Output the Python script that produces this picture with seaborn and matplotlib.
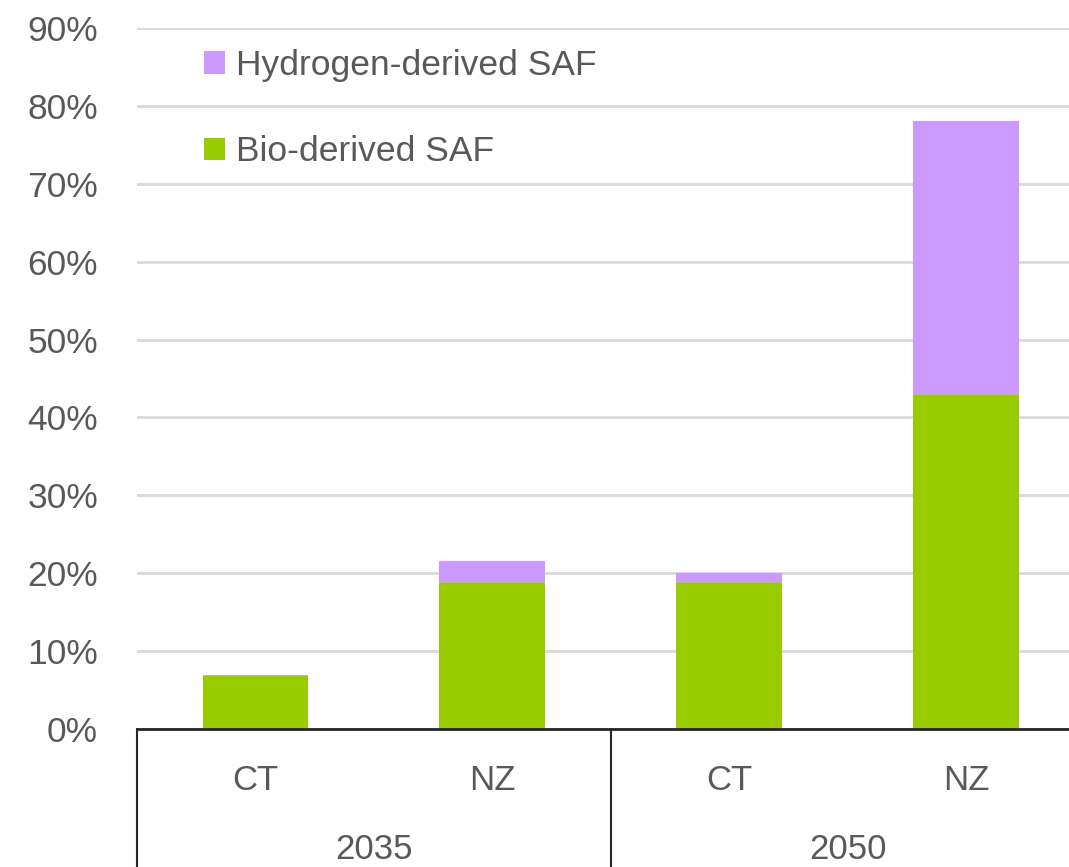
import matplotlib
matplotlib.use("Agg")
import matplotlib.pyplot as plt
import matplotlib.transforms as mtransforms
from matplotlib.patches import Patch
import seaborn as sns
import pandas as pd

# SAF share of aviation fuel, by year and scenario (percent)
years = ["2035", "2035", "2050", "2050"]
scenarios = ["CT", "NZ", "CT", "NZ"]
bio_saf = [6.8, 18.8, 18.8, 42.9]
hydrogen_saf = [0.1, 2.8, 1.2, 35.2]
y_ticks = [0, 10, 20, 30, 40, 50, 60, 70, 80, 90]

GREEN = "#99CC00"
PURPLE = "#CC99FF"
TEXT = "#595959"

sns.set_theme(style="white")
plt.rcParams["font.family"] = ["Liberation Sans", "DejaVu Sans"]

df = pd.DataFrame({
    "key": [f"{y} {s}" for y, s in zip(years, scenarios)],
    "bio": bio_saf,
    "hydrogen": hydrogen_saf,
})
order = list(df["key"])

fig = plt.figure(figsize=(10.69, 8.67), dpi=100)
ax = fig.add_axes([0.128, 0.1592, 0.872, 0.8085])

sns.barplot(data=df, x="key", y="bio", order=order, color=GREEN,
            width=0.445, saturation=1, linewidth=0, ax=ax)
sns.barplot(data=df, x="key", y="hydrogen", order=order, color=PURPLE,
            width=0.445, saturation=1, linewidth=0, bottom=df["bio"].values, ax=ax)

ax.set_xlim(-0.5, 3.435)
ax.set_ylim(0, 90)
ax.set_yticks(y_ticks)
ax.set_yticklabels([f"{t}%" for t in y_ticks])
ax.yaxis.grid(True, color="#D9D9D9", linewidth=2)
ax.set_axisbelow(True)
ax.set_xlabel("")
ax.set_ylabel("")

for side in ["top", "right", "left"]:
    ax.spines[side].set_visible(False)
ax.spines["bottom"].set_color("#262626")
ax.spines["bottom"].set_linewidth(2)

ax.set_xticks(range(len(scenarios)))
ax.set_xticklabels(scenarios)
ax.tick_params(axis="x", length=0, pad=25, labelsize=25, labelcolor=TEXT)
ax.tick_params(axis="y", length=0, pad=28, labelsize=25.5, labelcolor=TEXT)

# Year group table below the axis
trans = mtransforms.blended_transform_factory(ax.transData, ax.transAxes)
for xb in [-0.5, 1.5]:
    ax.plot([xb, xb], [0, -0.2], color="#262626", linewidth=1.5,
            transform=trans, clip_on=False)
group_years = []
for i, y in enumerate(years):
    if y not in group_years:
        group_years.append(y)
for g in group_years:
    idx = [i for i, y in enumerate(years) if y == g]
    xc = sum(idx) / len(idx)
    ax.text(xc, -0.172, g, transform=trans, ha="center", va="center",
            fontsize=25, color=TEXT)

handles = [Patch(facecolor=PURPLE, edgecolor="none", label="Hydrogen-derived SAF"),
           Patch(facecolor=GREEN, edgecolor="none", label="Bio-derived SAF")]
leg = ax.legend(handles=handles, loc="upper left", bbox_to_anchor=(0.057, 0.99),
                frameon=False, fontsize=25.5, handlelength=0.6, handleheight=0.6,
                handletextpad=0.3, labelspacing=1.5, borderaxespad=0)
for t in leg.get_texts():
    t.set_color(TEXT)

fig.savefig("out.png", dpi=100)
